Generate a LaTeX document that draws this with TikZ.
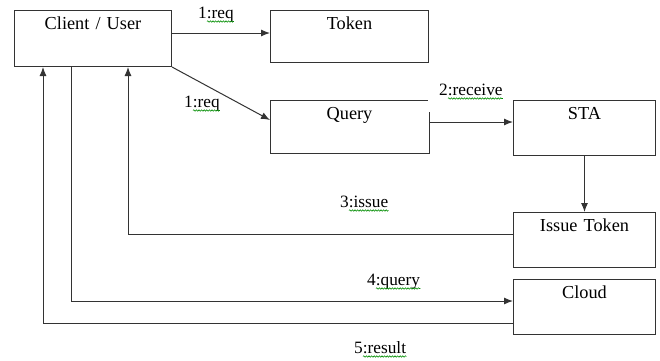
\documentclass[tikz,border=0pt]{standalone}
\usepackage{fontspec}
\setmainfont{Liberation Serif}
\usetikzlibrary{arrows.meta,calc,decorations.pathmorphing}
\definecolor{linegray}{HTML}{333333}
\tikzset{
  box/.style 2 args={draw=linegray, line width=1pt, anchor=north west, inner xsep=0pt, inner ysep=7pt,
    text width=#1, align=center, text height=12pt, text depth=#2, font=\fontsize{18.3}{20}\selectfont},
  conn/.style={draw=linegray, line width=1pt},
  arr/.style={conn, -{Latex[length=9pt,width=7pt]}},
  lbl/.style={anchor=base west, inner sep=0pt, font=\fontsize{17.3}{20}\selectfont},
  wavy/.style={draw=green!55!black, line width=0.6pt, decorate, decoration={snake, segment length=2.6pt, amplitude=0.7pt}}
}
\begin{document}
\begin{tikzpicture}[x=1pt,y=-1pt]
\useasboundingbox (0,0) rectangle (660,360);
% boxes
\node[box={157pt}{30pt}] (client) at (14,10) {Client / User};
\node[box={158pt}{26pt}] (token) at (270,10) {Token};
\node[box={158pt}{26pt}, draw=none] (query) at (270,100) {Query};
\draw[conn] ($(query.north east)+(0,12)$) -- (query.south east) -- (query.south west) -- (query.north west) -- ($(query.north east)+(-1,0)$);
\node[box={142pt}{29pt}] (sta) at (513,100) {STA};
\node[box={142pt}{29pt}] (issue) at (513,212) {Issue Token};
\node[box={142pt}{29pt}] (cloud) at (513,279) {Cloud};
% connectors
\coordinate (ctok) at ($(client.north east)+(0,23)$);
\draw[arr] (ctok) -- (token.west |- ctok);
\draw[arr] (client.south east) -- ($(query.north west)+(0,20)$);
\coordinate (qsta) at ($(query.north east)+(0,22)$);
\draw[arr] (qsta) -- (sta.west |- qsta);
\draw[arr] (sta.south) -- (issue.north);
\draw[arr] ($(issue.north west)+(0,22)$) -| ($(client.south west)+(114,0)$);
\draw[arr] ($(client.south west)+(57,0)$) |- ($(cloud.north west)+(0,22)$);
\draw[arr] ($(cloud.north west)+(0,44)$) -| ($(client.south west)+(29,0)$);
% labels
\node[lbl] (l1) at (198,18) {1:req};
\node[lbl] (l2) at (184,107) {1:req};
\node[lbl] (l3) at (439,95) {2:receive};
\node[lbl] (l4) at (340,207) {3:issue};
\node[lbl] (l5) at (367,285) {4:query};
\node[lbl] (l6) at (354,353) {5:result};
\foreach \l in {l1,l2,l3,l4,l5,l6}
  \path[wavy] ($(\l.base west)+(9,3.5)$) -- ($(\l.base east)+(0,3.5)$);
\end{tikzpicture}
\end{document}
